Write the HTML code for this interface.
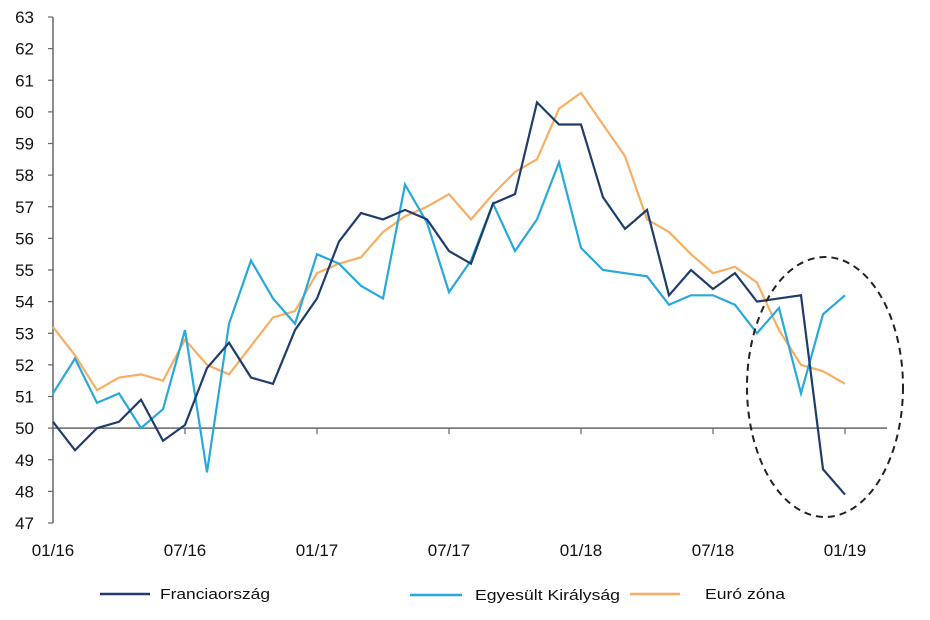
<!DOCTYPE html>
<html><head><meta charset="utf-8"><style>
html,body{margin:0;padding:0;background:#fff;}
svg text{font-family:"Liberation Sans",sans-serif;fill:#111;}
</style></head><body>
<svg id="chart" width="930" height="615" viewBox="0 0 930 615" xmlns="http://www.w3.org/2000/svg">
<g id="axes"></g>
<g id="series"></g>
<ellipse cx="825" cy="387" rx="78" ry="130" fill="none" stroke="#222" stroke-width="2" stroke-dasharray="7,5"/>
<g>
<line x1="100" y1="594" x2="150" y2="594" stroke="#1f3d6b" stroke-width="2.5"/>
<text x="160" y="599" font-size="15" textLength="110" lengthAdjust="spacingAndGlyphs">Franciaország</text>
<line x1="410" y1="595" x2="462" y2="595" stroke="#28a8dc" stroke-width="2.5"/>
<text x="475" y="600" font-size="15" textLength="145" lengthAdjust="spacingAndGlyphs">Egyesült Királyság</text>
<line x1="630" y1="594" x2="680" y2="594" stroke="#f8ae63" stroke-width="2.5"/>
<text x="705" y="599" font-size="15" textLength="80" lengthAdjust="spacingAndGlyphs">Euró zóna</text>
</g>
</svg>
<script>
const xLabels = ["01/16","07/16","01/17","07/17","01/18","07/18","01/19"];
const yTicks = [47,48,49,50,51,52,53,54,55,56,57,58,59,60,61,62,63];
const france = [50.2,49.3,50.0,50.2,50.9,49.6,50.1,51.9,52.7,51.6,51.4,53.1,54.1,55.9,56.8,56.6,56.9,56.6,55.6,55.2,57.1,57.4,60.3,59.6,59.6,57.3,56.3,56.9,54.2,55.0,54.4,54.9,54.0,54.1,54.2,48.7,47.9];
const uk = [51.1,52.2,50.8,51.1,50.0,50.6,53.1,48.6,53.3,55.3,54.1,53.3,55.5,55.2,54.5,54.1,57.7,56.5,54.3,55.3,57.1,55.6,56.6,58.4,55.7,55.0,54.9,54.8,53.9,54.2,54.2,53.9,53.0,53.8,51.1,53.6,54.2];
const euro = [53.2,52.3,51.2,51.6,51.7,51.5,52.8,52.0,51.7,52.6,53.5,53.7,54.9,55.2,55.4,56.2,56.7,57.0,57.4,56.6,57.4,58.1,58.5,60.1,60.6,59.6,58.6,56.6,56.2,55.5,54.9,55.1,54.6,53.1,52.0,51.8,51.4];

const NS="http://www.w3.org/2000/svg";
const x0=53, dx=22, yTop=17, yBot=523, yMin=47, yMax=63;
function xS(i){return x0+i*dx;}
function yS(v){return yBot-(v-yMin)/(yMax-yMin)*(yBot-yTop);}
const axes=document.getElementById('axes');
function mk(tag,attrs,parent){const e=document.createElementNS(NS,tag);for(const k in attrs)e.setAttribute(k,attrs[k]);parent.appendChild(e);return e;}

const yAxis=mk('line',{x1:x0,y1:yTop,x2:x0,y2:yBot,stroke:'#666','stroke-width':1.5},axes);


yTicks.forEach(v=>{
  const t=mk('line',{x1:x0-5,y1:yS(v),x2:x0,y2:yS(v),stroke:'#666','stroke-width':1.2},axes);
  
  
  const l=mk('text',{x:x0-19,y:yS(v)+6,'font-size':17,'text-anchor':'end'},axes);
  
  
  l.textContent=v;
});
const xAxis=mk('line',{x1:x0,y1:yS(50),x2:887,y2:yS(50),stroke:'#666','stroke-width':1.5},axes);


xLabels.forEach((s,k)=>{
  const xx=xS(k*6);
  const t=mk('line',{x1:xx,y1:yS(50),x2:xx,y2:yS(50)+6,stroke:'#666','stroke-width':1.2},axes);
  
  
  const l=mk('text',{x:xx,y:556,'font-size':17,'text-anchor':'middle'},axes);
  
  
  l.textContent=s;
});
const ser=document.getElementById('series');
[[euro,'#f8ae63','series-euro-zone'],[uk,'#28a8dc','series-uk'],[france,'#1f3d6b','series-france']].forEach(([d,c,n])=>{
  const p=mk('polyline',{points:d.map((v,i)=>xS(i)+','+yS(v)).join(' '),fill:'none',stroke:c,'stroke-width':2.2,'stroke-linejoin':'miter'},ser);
  
  
});
</script>
</body></html>
